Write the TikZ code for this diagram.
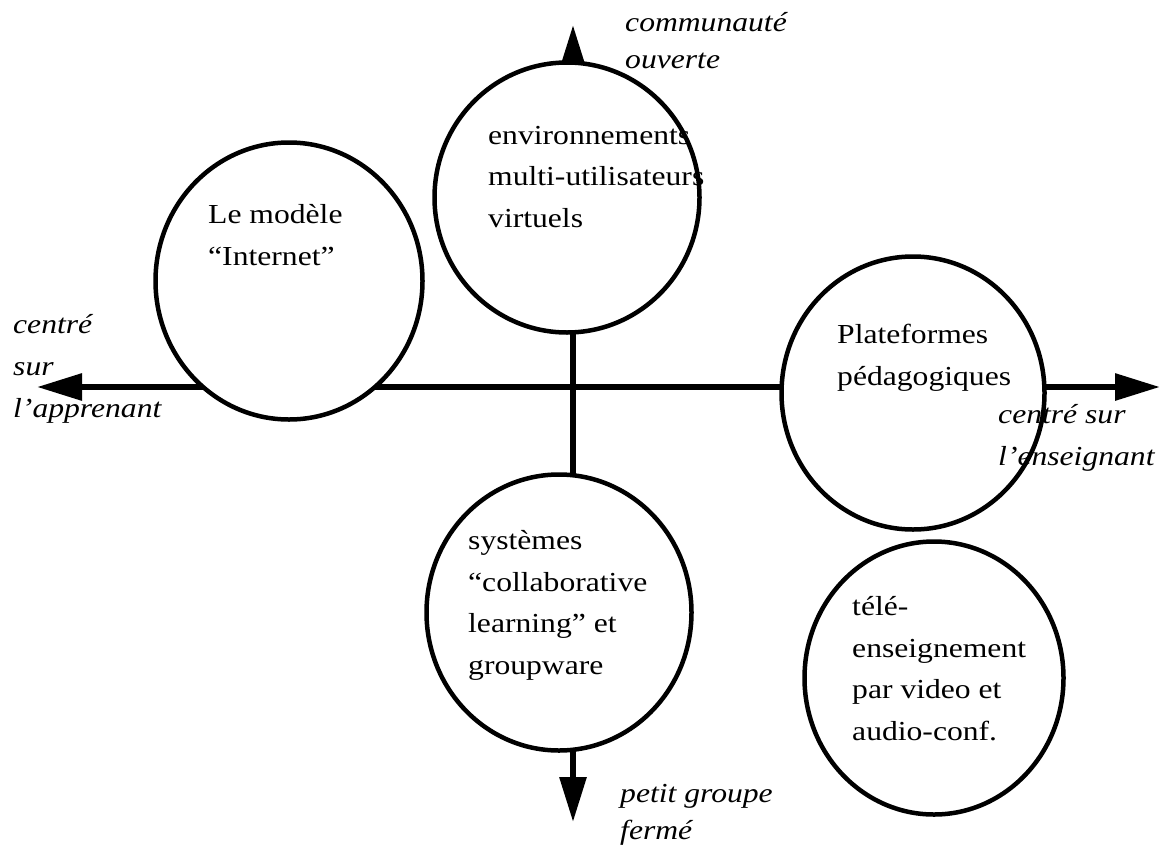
\documentclass[tikz,border=0pt]{standalone}
\usepackage{fontspec}
\setmainfont{Liberation Serif}[FakeStretch=1.15]
\usetikzlibrary{arrows.meta,shapes.geometric}
\begin{document}
\begin{tikzpicture}[x=1pt,y=-1pt,
  axis/.style={line width=6pt,
    {Triangle[length=45pt,width=26pt]}-{Triangle[length=45pt,width=26pt]}},
  bubble/.style={ellipse, draw, fill=white, line width=4.5pt, inner sep=0pt},
  % multi-line texts are placed by the baseline of their last line
  body/.style={anchor=base west, inner sep=0pt, align=left,
    font=\fontsize{27.5}{41.5}\selectfont},
  pole/.style={anchor=base west, inner sep=0pt, align=left,
    font=\fontsize{27.5}{42}\selectfont\itshape},
  polev/.style={pole, font=\fontsize{27.5}{37}\selectfont\itshape}
]
\useasboundingbox (0,0) rectangle (1161,846);

% ends of the two axes
\coordinate (W) at (37,387);
\coordinate (E) at (1160,387);
\coordinate (N) at (573,25);
\coordinate (S) at (573,822);

\draw[axis] (W) -- (E);
\draw[axis] (N) -- (S);

% the five families of systems
\node[bubble, minimum width=267pt, minimum height=277pt] (internet) at (289,281) {};
\node[bubble, minimum width=265pt, minimum height=270pt] (mud)      at (567,197.5) {};
\node[bubble, minimum width=265pt, minimum height=276pt] (collab)   at (559,612.5) {};
\node[bubble, minimum width=263pt, minimum height=273pt] (plat)     at (913,393) {};
\node[bubble, minimum width=259pt, minimum height=273pt] (tele)     at (934,678) {};

\node[body] (internetT) at (208,265) {Le modèle\\“Internet”};
\node[body] (mudT)      at (488,227) {environnements\\multi-utilisateurs\\virtuels};
\node[body] (collabT)   at (468,674) {systèmes\\“collaborative\\learning” et\\groupware};
\node[body] (platT)     at (837,385) {Plateformes\\pédagogiques};
\node[body] (teleT)     at (852,740) {télé-\\enseignement\\par video et\\audio-conf.};

% labels of the axis ends
\node[pole]  (Wlab) at (13,417)  {centré\\sur\\l’apprenant};
\node[pole]  (Elab) at (998,465) {centré sur\\l’enseignant};
\node[polev] (Nlab) at (625,68)  {communauté\\ouverte};
\node[polev] (Slab) at (620,839) {petit groupe\\fermé};
\end{tikzpicture}
\end{document}
